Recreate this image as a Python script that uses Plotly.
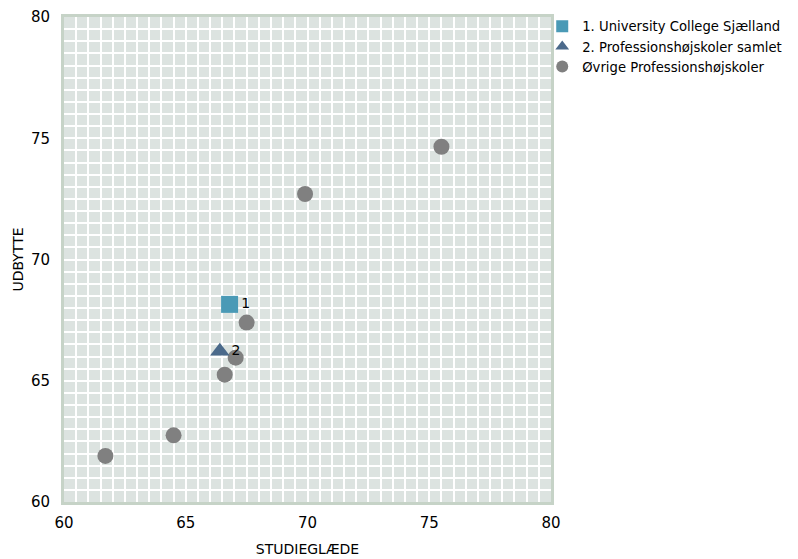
import plotly.graph_objects as go

ucs_x = [66.8]
ucs_y = [68.15]
ucs_label = ["1"]

samlet_x = [66.4]
samlet_y = [66.22]
samlet_label = ["2"]

other_x = [67.5, 67.05, 66.6, 64.5, 61.7, 69.9, 75.5]
other_y = [67.4, 65.95, 65.25, 62.75, 61.9, 72.7, 74.65]

names = ["1. University College Sjælland", "2. Professionshøjskoler samlet", "Øvrige Professionshøjskoler"]

font = "DejaVu Sans"

fig = go.Figure()
fig.add_trace(go.Scatter(
    x=other_x, y=other_y, mode="markers", name=names[2],
    marker=dict(symbol="circle", size=16, color="#808080"),
))
fig.add_trace(go.Scatter(
    x=samlet_x, y=samlet_y, mode="markers+text", name=names[1],
    text=samlet_label, textposition="middle right",
    textfont=dict(size=14, color="#000000", family=font),
    marker=dict(symbol="triangle-up", size=17, color="#4b6a8b"),
))
fig.add_trace(go.Scatter(
    x=ucs_x, y=ucs_y, mode="markers+text", name=names[0],
    text=ucs_label, textposition="middle right",
    textfont=dict(size=14, color="#000000", family=font),
    marker=dict(symbol="square", size=17, color="#4a9ab6"),
))

axis_common = dict(
    range=[60, 80], dtick=5, showgrid=True, gridcolor="#ffffff", gridwidth=2,
    minor=dict(dtick=0.5, showgrid=True, gridcolor="#ffffff", gridwidth=2),
    showline=True, linecolor="#c6d3c7", linewidth=3, mirror=True,
    zeroline=False, ticks="outside", tickcolor="rgba(0,0,0,0)",
    tickfont=dict(size=15, color="#000000", family=font),
    title_font=dict(size=14, color="#000000", family=font),
    automargin=False,
)

# page body has an 8px default margin, so the figure is sized/offset to compensate
fig.update_layout(
    width=790, height=551,
    margin=dict(l=56, r=247, t=9, b=57, autoexpand=False),
    paper_bgcolor="#ffffff", plot_bgcolor="#dce3e0",
    font=dict(family=font, size=14, color="#000000"),
    xaxis=dict(**axis_common, ticklen=5, title=dict(text="STUDIEGLÆDE", standoff=14)),
    yaxis=dict(**axis_common, ticklen=8, title=dict(text="UDBYTTE", standoff=5)),
    legend=dict(x=0.982, y=1.012, xanchor="left", yanchor="top", traceorder="reversed",
                font=dict(size=13.2, family=font), itemsizing="constant", itemwidth=30,
                bgcolor="rgba(0,0,0,0)", tracegroupgap=0),
    showlegend=True,
)

fig.write_html("out.html")
